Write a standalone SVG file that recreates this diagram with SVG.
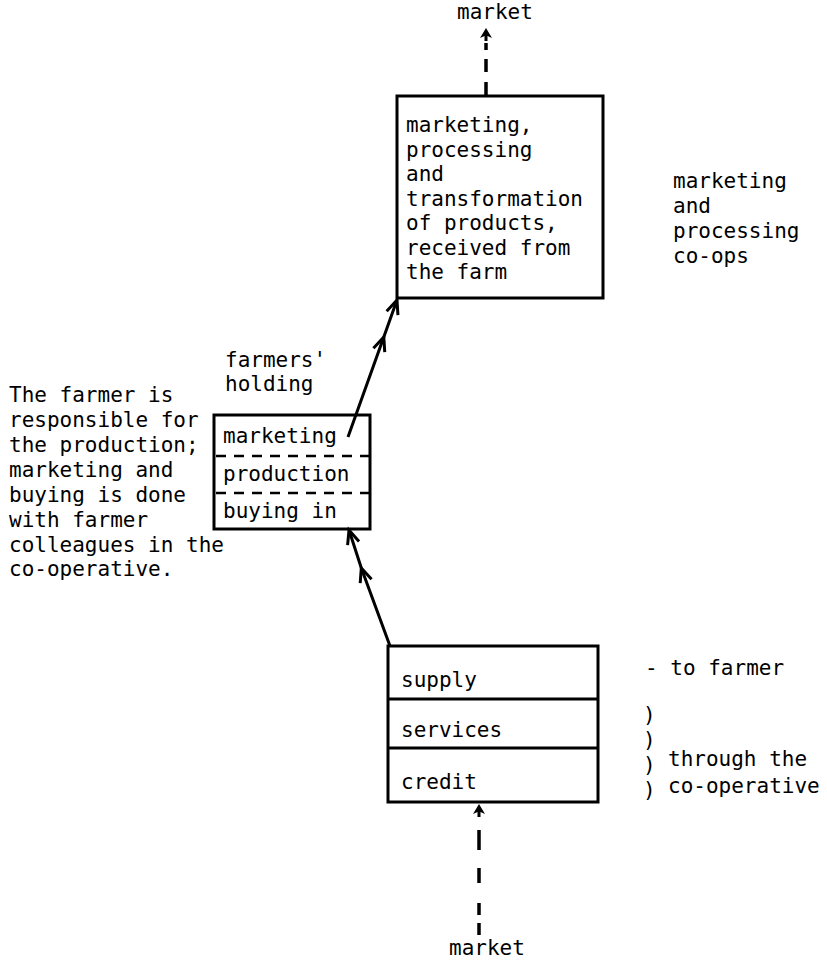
<svg xmlns="http://www.w3.org/2000/svg" xmlns:xlink="http://www.w3.org/1999/xlink" width="827" height="961" viewBox="0 0 827 961">
<style>
text{font-family:"DejaVu Sans Mono","Liberation Mono",monospace;font-size:21px;fill:#000}
.box{fill:none;stroke:#000;stroke-width:3}
.sep{stroke:#000;stroke-width:2.5;stroke-dasharray:10 8;fill:none}
.solid{fill:none;stroke:#000;stroke-width:3}
.dash{fill:none;stroke:#000;stroke-width:3.5}
</style>
<defs>
<marker id="v" markerUnits="userSpaceOnUse" markerWidth="30" markerHeight="30" viewBox="-20 -15 30 30" refX="0" refY="0" orient="auto">
<path d="M-14,-6 L0,0 L-14,6" fill="none" stroke="#000" stroke-width="3" stroke-linejoin="miter"/>
</marker>
<path id="ah" d="M0,0 L-6,10 L-1.5,8 L-1.5,13 L1.5,13 L1.5,8 L6,10 Z" fill="#000"/>
</defs>
<rect width="827" height="961" fill="#fff"/>

<g id="market-top">
<text x="457" y="19">market</text>
</g>

<g id="coop-processing">
<rect class="box" x="397" y="96" width="206" height="202"/>
<text x="406" y="132">marketing,</text>
<text x="406" y="156.5">processing</text>
<text x="406" y="181">and</text>
<text x="406" y="205.5">transformation</text>
<text x="406" y="230">of products,</text>
<text x="406" y="254.5">received from</text>
<text x="406" y="279">the farm</text>
</g>

<g id="label-coops">
<text x="673" y="188">marketing</text>
<text x="673" y="213">and</text>
<text x="673" y="238">processing</text>
<text x="673" y="263">co-ops</text>
</g>

<g id="label-holding">
<text x="225" y="367">farmers'</text>
<text x="225" y="391">holding</text>
</g>

<g id="farm-holding">
<rect class="box" x="214" y="415" width="156" height="114"/>
<line class="sep" x1="216" y1="456" x2="370" y2="456"/>
<line class="sep" x1="216" y1="493" x2="370" y2="493"/>
<text x="223" y="443">marketing</text>
<text x="223" y="481">production</text>
<text x="223" y="518">buying in</text>
</g>

<g id="label-farmer">
<text x="9" y="402">The farmer is</text>
<text x="9" y="427">responsible for</text>
<text x="9" y="452">the production;</text>
<text x="9" y="477">marketing and</text>
<text x="9" y="502">buying is done</text>
<text x="9" y="527">with farmer</text>
<text x="9" y="551.5">colleagues in the</text>
<text x="9" y="576">co-operative.</text>
</g>

<g id="supply-coop">
<rect class="box" x="388" y="646" width="210" height="156"/>
<line class="box" x1="388" y1="699" x2="598" y2="699"/>
<line class="box" x1="388" y1="748" x2="598" y2="748"/>
<text x="401" y="687">supply</text>
<text x="401" y="737">services</text>
<text x="401" y="789">credit</text>
</g>

<g id="label-supply">
<text x="645" y="675">- to farmer</text>
<text x="643" y="722">)</text>
<text x="643" y="747">)</text>
<text x="643" y="772">)</text>
<text x="643" y="797">)</text>
<text x="668" y="766">through the</text>
<text x="668" y="793">co-operative</text>
</g>

<g id="market-bottom">
<text x="449" y="955">market</text>
</g>

<g id="connectors">
<path class="solid" d="M348,437 L383.8,337 L397,300" marker-mid="url(#v)" marker-end="url(#v)"/>
<path class="solid" d="M390,646 L361.3,568 L349,530" marker-mid="url(#v)" marker-end="url(#v)"/>
<path class="dash" d="M486,95 L486,82 M486,72 L486,59 M486,50 L486,43"/>
<use xlink:href="#ah" x="486" y="28"/>
<path class="dash" d="M479,935 L479,923 M479,915 L479,903 M479,883 L479,868 M479,850 L479,830"/>
<use xlink:href="#ah" x="479" y="804"/>
</g>
</svg>
